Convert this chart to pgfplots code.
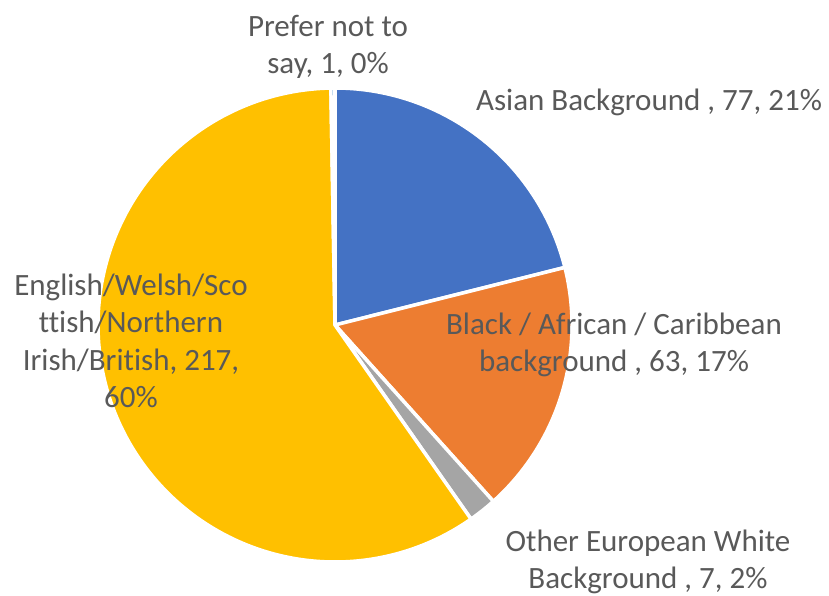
\documentclass[border=0pt]{standalone}
\usepackage{pgfplots}
\pgfplotsset{compat=1.18}
\usepackage{fontspec}
\setmainfont[Ligatures=NoCommon]{Carlito}
\definecolor{cBlue}{HTML}{4472C4}
\definecolor{cOrange}{HTML}{ED7D31}
\definecolor{cGray}{HTML}{A5A5A5}
\definecolor{cYellow}{HTML}{FFC000}
\definecolor{cLBlue}{HTML}{5B9BD5}
\definecolor{cText}{HTML}{595959}
% values
\def\vAsian{77}
\def\vBlack{63}
\def\vOther{7}
\def\vEnglish{217}
\def\vPrefer{1}
\pgfmathsetmacro\tot{\vAsian+\vBlack+\vOther+\vEnglish+\vPrefer}
\pgfmathsetmacro\aA{90}
\pgfmathsetmacro\aB{\aA-360*(\vAsian/\tot)}
\pgfmathsetmacro\aC{\aB-360*(\vBlack/\tot)}
\pgfmathsetmacro\aD{\aC-360*(\vOther/\tot)}
\pgfmathsetmacro\aE{\aD-360*(\vEnglish/\tot)}
\pgfmathsetmacro\aF{\aE-360*(\vPrefer/\tot)}
\def\cx{335}
\def\cy{325}
\def\rr{237}
\begin{document}
\begin{tikzpicture}
\begin{axis}[
  width=829pt, height=596pt, scale only axis,
  xmin=0, xmax=829, ymin=0, ymax=596, y dir=reverse,
  hide axis, clip=false,
  every axis plot/.append style={draw=white, line width=3.5pt, samples=120, line join=round},
]
\addplot[fill=cBlue, domain=\aB:\aA] ({\cx+\rr*cos(x)},{\cy-\rr*sin(x)}) -- (axis cs:\cx,\cy) -- cycle;
\addplot[fill=cOrange, domain=\aC:\aB] ({\cx+\rr*cos(x)},{\cy-\rr*sin(x)}) -- (axis cs:\cx,\cy) -- cycle;
\addplot[fill=cGray, domain=\aD:\aC, samples=20] ({\cx+\rr*cos(x)},{\cy-\rr*sin(x)}) -- (axis cs:\cx,\cy) -- cycle;
\addplot[fill=cYellow, domain=\aE:\aD, samples=240] ({\cx+\rr*cos(x)},{\cy-\rr*sin(x)}) -- (axis cs:\cx,\cy) -- cycle;
\addplot[fill=cLBlue, domain=\aF:\aE, samples=5] ({\cx+\rr*cos(x)},{\cy-\rr*sin(x)}) -- (axis cs:\cx,\cy) -- cycle;
\begin{scope}[every node/.style={text=cText, font=\fontsize{31}{37.5}\selectfont, align=center, inner sep=0pt}]
\node at (axis cs:328,47) {Prefer not to\\say, 1, 0\%};
\node at (axis cs:649,102) {Asian Background , 77, 21\%};
\node at (axis cs:131,341) {English/Welsh/Sco\\ttish/Northern\\Irish/British, 217,\\60\%};
\node at (axis cs:614,345) {Black / African / Caribbean\\background , 63, 17\%};
\node at (axis cs:648,562) {Other European White\\Background , 7, 2\%};
\end{scope}
\coordinate (SW) at (axis cs:0,596);
\coordinate (NE) at (axis cs:829,0);
\end{axis}
\pgfresetboundingbox
\path (SW) rectangle (NE);
\end{tikzpicture}
\end{document}
